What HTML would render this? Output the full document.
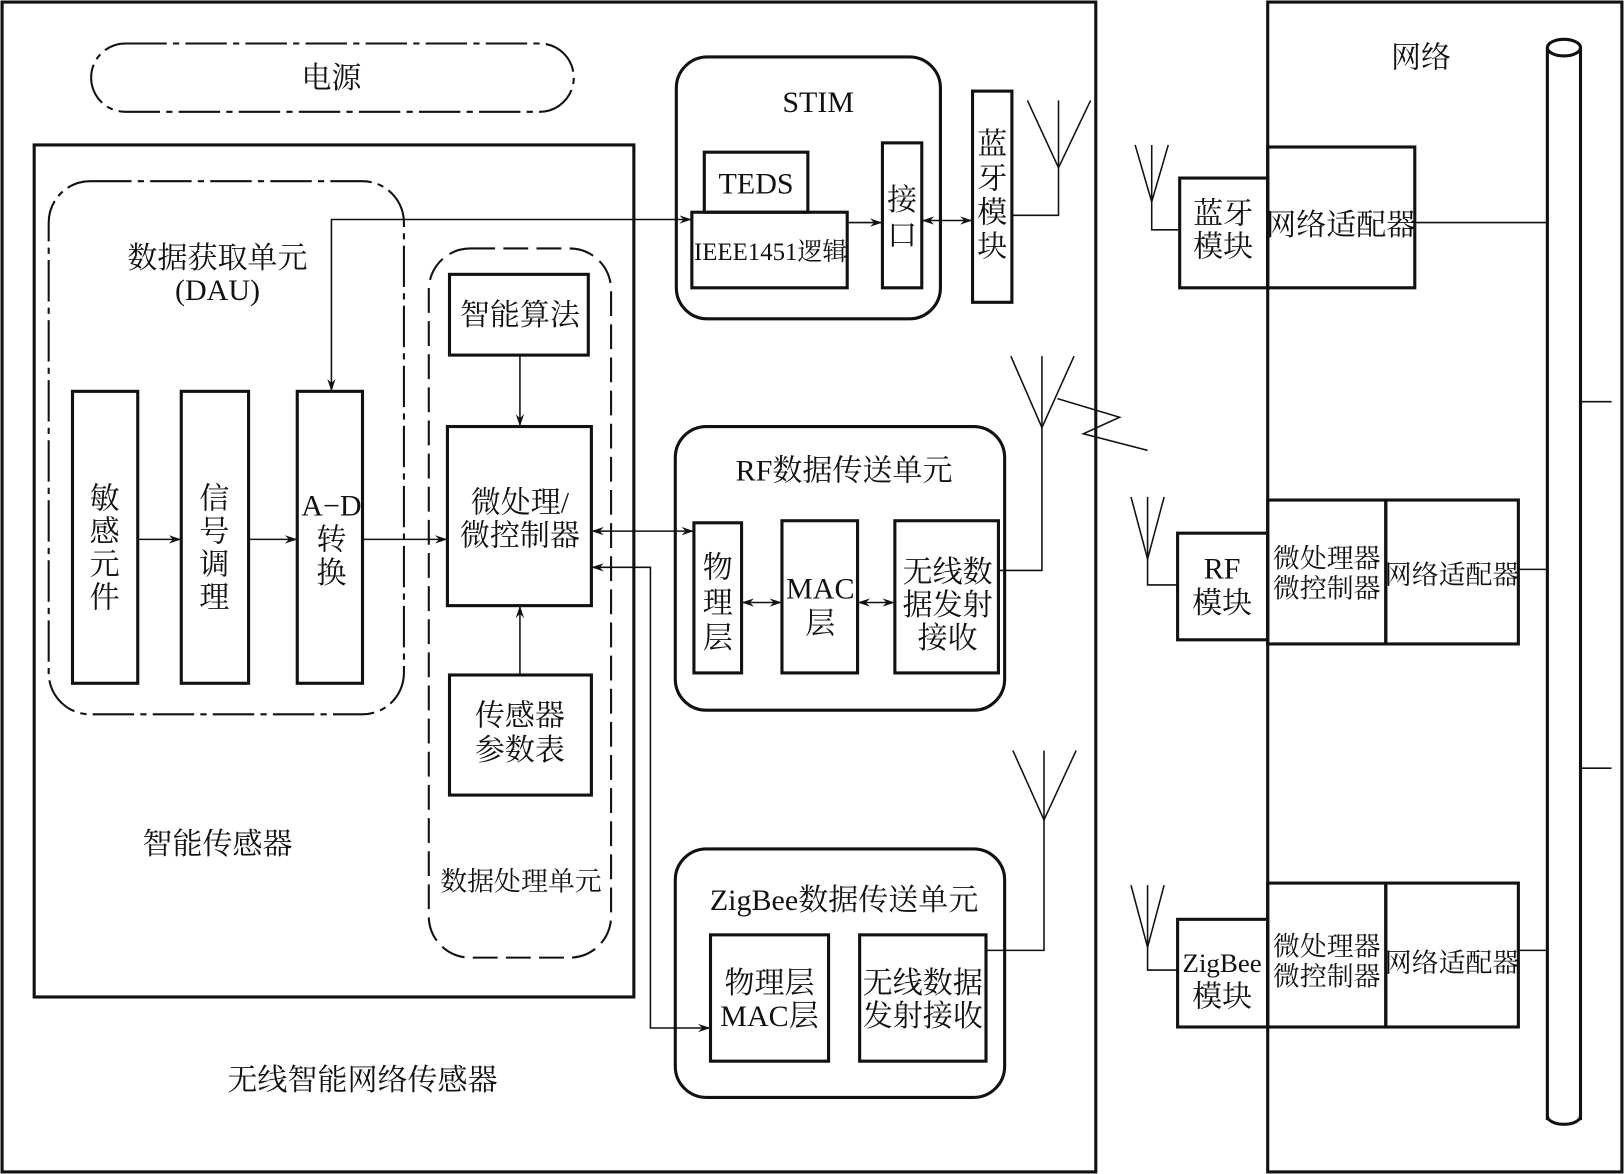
<!DOCTYPE html>
<html><head><meta charset="utf-8">
<style>
html,body{margin:0;padding:0;background:#fff;}
svg{display:block;}
text{font-family:"Liberation Serif","Noto Serif CJK SC","Noto Sans CJK SC",serif;fill:#111;}
</style></head>
<body>
<svg width="1624" height="1174" viewBox="0 0 1568 1134" preserveAspectRatio="none" xmlns="http://www.w3.org/2000/svg">
<defs>
<marker id="a" viewBox="0 0 12 8" refX="12" refY="4" markerWidth="12" markerHeight="8" markerUnits="userSpaceOnUse" orient="auto-start-reverse">
<path d="M0,0 L12,4 L0,8 L4,4 Z" fill="#111"/>
</marker>
</defs>
<g fill="none" stroke="#111">
<rect x="2" y="2" width="1056" height="1130" stroke-width="3"/>
<rect x="1224" y="2" width="342" height="1130" stroke-width="3"/>
<rect x="88" y="42" width="466" height="66" rx="33" stroke-width="2" stroke-dasharray="40,6,6,6"/>
<rect x="33" y="140" width="579" height="823" stroke-width="3"/>
<rect x="47" y="175" width="343" height="515" rx="40" stroke-width="2" stroke-dasharray="40,6,6,6"/>
<rect x="70" y="378" width="63" height="282" stroke-width="3"/>
<rect x="175" y="378" width="65" height="282" stroke-width="3"/>
<rect x="287" y="378" width="63" height="282" stroke-width="3"/>
<line x1="133" y1="521" x2="175" y2="521" stroke-width="1.5" marker-end="url(#a)"/>
<line x1="240" y1="521" x2="287" y2="521" stroke-width="1.5" marker-end="url(#a)"/>
<rect x="414" y="240" width="176" height="685" rx="40" stroke-width="2" stroke-dasharray="24,8"/>
<rect x="434" y="265" width="134" height="78" stroke-width="3"/>
<rect x="432" y="412" width="139" height="173" stroke-width="3"/>
<rect x="434" y="652" width="137" height="116" stroke-width="3"/>
<line x1="502" y1="343" x2="502" y2="412" stroke-width="1.5" marker-end="url(#a)"/>
<line x1="502" y1="652" x2="502" y2="585" stroke-width="1.5" marker-end="url(#a)"/>
<line x1="350" y1="521" x2="432" y2="521" stroke-width="1.5" marker-end="url(#a)"/>
<polyline points="320,378 320,212 668,212" stroke-width="1.5" marker-start="url(#a)" marker-end="url(#a)"/>
<rect x="653" y="55" width="255" height="253" rx="30" stroke-width="3"/>
<rect x="680" y="147" width="100" height="58" stroke-width="3"/>
<rect x="668" y="205" width="150" height="73" stroke-width="3"/>
<rect x="852" y="138" width="38" height="140" stroke-width="3"/>
<rect x="939" y="88" width="38" height="204" stroke-width="3"/>
<line x1="818" y1="215" x2="852" y2="215" stroke-width="1.5" marker-end="url(#a)"/>
<line x1="890" y1="213" x2="939" y2="213" stroke-width="1.5" marker-start="url(#a)" marker-end="url(#a)"/>
<polyline points="977,208 1022,208 1022,97" stroke-width="1.5"/>
<polyline points="992,97 1022,162 1053,97" stroke-width="1.5"/>
<rect x="652" y="412" width="318" height="274" rx="30" stroke-width="3"/>
<rect x="670" y="505" width="46" height="145" stroke-width="3"/>
<rect x="755" y="503" width="73" height="147" stroke-width="3"/>
<rect x="864" y="503" width="100" height="147" stroke-width="3"/>
<line x1="716" y1="582" x2="755" y2="582" stroke-width="1.5" marker-start="url(#a)" marker-end="url(#a)"/>
<line x1="828" y1="582" x2="864" y2="582" stroke-width="1.5" marker-start="url(#a)" marker-end="url(#a)"/>
<line x1="571" y1="513" x2="670" y2="513" stroke-width="1.5" marker-start="url(#a)" marker-end="url(#a)"/>
<polyline points="964,551 1006,551 1006,344" stroke-width="1.5"/>
<polyline points="976,344 1006,413 1037,344" stroke-width="1.5"/>
<polyline points="1021,385 1081,403 1046,419 1108,435" stroke-width="1.5"/>
<rect x="652" y="820" width="318" height="240" rx="30" stroke-width="3"/>
<rect x="686" y="903" width="114" height="122" stroke-width="3"/>
<rect x="830" y="903" width="122" height="122" stroke-width="3"/>
<polyline points="952,918 1008,918 1008,725" stroke-width="1.5"/>
<polyline points="978,725 1008,792 1039,725" stroke-width="1.5"/>
<polyline points="686,993 628,993 628,548 571,548" stroke-width="1.5" marker-start="url(#a)" marker-end="url(#a)"/>
<line x1="1494" y1="46" x2="1494" y2="1082" stroke-width="3"/>
<line x1="1526" y1="46" x2="1526" y2="1082" stroke-width="3"/>
<ellipse cx="1510" cy="46" rx="16" ry="8" stroke-width="3" fill="#fff"/>
<path d="M1494,1078 A16,8 0 0 0 1526,1078" stroke-width="3"/>
<line x1="1526" y1="388" x2="1556" y2="388" stroke-width="1.5"/>
<line x1="1526" y1="742" x2="1556" y2="742" stroke-width="1.5"/>
<rect x="1139" y="172" width="85" height="106" stroke-width="3"/>
<rect x="1224" y="142" width="142" height="136" stroke-width="3"/>
<line x1="1366" y1="215" x2="1494" y2="215" stroke-width="1.5"/>
<polyline points="1139,222 1112,222 1112,140" stroke-width="1.5"/>
<polyline points="1096,140 1112,195 1128,140" stroke-width="1.5"/>
<rect x="1137" y="515" width="87" height="103" stroke-width="3"/>
<rect x="1224" y="483" width="114" height="139" stroke-width="3"/>
<rect x="1338" y="483" width="128" height="139" stroke-width="3"/>
<line x1="1466" y1="550" x2="1494" y2="550" stroke-width="1.5"/>
<polyline points="1137,565 1108,565 1108,480" stroke-width="1.5"/>
<polyline points="1092,480 1108,540 1124,480" stroke-width="1.5"/>
<rect x="1137" y="888" width="87" height="104" stroke-width="3"/>
<rect x="1224" y="853" width="114" height="139" stroke-width="3"/>
<rect x="1338" y="853" width="128" height="139" stroke-width="3"/>
<line x1="1466" y1="918" x2="1494" y2="918" stroke-width="1.5"/>
<polyline points="1137,937 1108,937 1108,855" stroke-width="1.5"/>
<polyline points="1092,855 1108,915 1124,855" stroke-width="1.5"/>
</g>
<g font-size="29" text-anchor="middle">
<text x="320" y="85">电源</text>
<text x="210" y="259">数据获取单元</text>
<text x="210" y="290">(DAU)</text>
<text x="101" y="491">敏</text><text x="101" y="523">感</text><text x="101" y="555">元</text><text x="101" y="587">件</text>
<text x="207" y="491">信</text><text x="207" y="523">号</text><text x="207" y="555">调</text><text x="207" y="587">理</text>
<text x="320" y="498">A−D</text><text x="320" y="531">转</text><text x="320" y="563">换</text>
<text x="502" y="314">智能算法</text>
<text x="502" y="495">微处理/</text>
<text x="502" y="527">微控制器</text>
<text x="502" y="701">传感器</text>
<text x="502" y="734">参数表</text>
<text x="210" y="825">智能传感器</text>
<text x="503" y="860" font-size="26">数据处理单元</text>
<text x="350" y="1053">无线智能网络传感器</text>
<text x="790" y="108">STIM</text>
<text x="730" y="187">TEDS</text>
<text x="744" y="251" font-size="24">IEEE1451逻辑</text>
<text x="871" y="203">接</text><text x="871" y="237">口</text>
<text x="958" y="149">蓝</text><text x="958" y="182">牙</text><text x="958" y="215">模</text><text x="958" y="248">块</text>
<text x="815" y="464">RF数据传送单元</text>
<text x="693" y="558">物</text><text x="693" y="592">理</text><text x="693" y="626">层</text>
<text x="792" y="578">MAC</text><text x="792" y="612">层</text>
<text x="915" y="562">无线数</text><text x="915" y="594">据发射</text><text x="915" y="626">接收</text>
<text x="815" y="879">ZigBee数据传送单元</text>
<text x="743" y="959">物理层</text><text x="743" y="991">MAC层</text>
<text x="891" y="959">无线数据</text><text x="891" y="991">发射接收</text>
<text x="1372" y="65">网络</text>
<text x="1181" y="216">蓝牙</text><text x="1181" y="248">模块</text>
<text x="1295" y="227">网络适配器</text>
<text x="1180" y="559">RF</text><text x="1180" y="592">模块</text>
<text x="1281" y="548" font-size="26">微处理器</text><text x="1281" y="577" font-size="26">微控制器</text>
<text x="1402" y="564" font-size="26">网络适配器</text>
<text x="1180" y="939" font-size="26">ZigBee</text><text x="1180" y="972">模块</text>
<text x="1281" y="923" font-size="26">微处理器</text><text x="1281" y="952" font-size="26">微控制器</text>
<text x="1402" y="939" font-size="26">网络适配器</text>
</g>
</svg>
</body></html>
